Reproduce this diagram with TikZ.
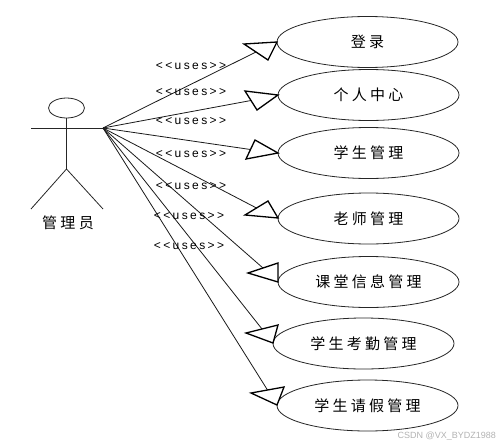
\documentclass[tikz,border=0pt]{standalone}
\usepackage{fontspec}
\usetikzlibrary{shapes.geometric,calc}
\newfontfamily\cjk[LetterSpace=22]{Noto Sans CJK SC}
\newfontfamily\usesfont[LetterSpace=20]{Liberation Sans}
\newfontfamily\wmfont{Liberation Sans}
\tikzset{
  x=1pt,y=-1pt,
  usecase/.style={draw=black!85,line width=0.8pt,ellipse,minimum width=181pt,minimum height=51pt,inner sep=0pt,font=\cjk\fontsize{15}{16}\selectfont,fill=white},
  stick/.style={draw=black!85,line width=0.8pt},
  conn/.style={draw=black!90,line width=0.8pt},
  tri/.style={draw=black,line width=1.3pt,fill=white,line join=miter},
  useslabel/.style={inner sep=0pt,font=\usesfont\fontsize{12}{13}\selectfont},
}
\begin{document}
\begin{tikzpicture}
\useasboundingbox (0,0) rectangle (500,447);
% actor
\node[draw=black!85,line width=0.8pt,ellipse,minimum width=36pt,minimum height=20pt,inner sep=0pt] (head) at (66.5,108) {};
\coordinate (armL) at (31,128);
\coordinate (hand) at (103,128);
\coordinate (hip) at (66.5,169);
\coordinate (legL) at (31,209);
\coordinate (legR) at (103,209);
\draw[stick] (armL) -- (hand);
\draw[stick] (head) -- (hip);
\draw[stick] (legL) -- (hip) -- (legR);
\node[font=\cjk\fontsize{15}{16}\selectfont,inner sep=0pt] (actor) at (68,223) {管理员};
% use cases
\node[usecase] (u1) at (367.5,42) {登录};
\node[usecase] (u2) at (368.5,95) {个人中心};
\node[usecase] (u3) at (368.5,153) {学生管理};
\node[usecase] (u4) at (368.5,218.5) {老师管理};
\node[usecase] (u5) at (368.5,282) {课堂信息管理};
\node[usecase] (u6) at (363.5,343.5) {学生考勤管理};
\node[usecase] (u7) at (367.5,405.5) {学生请假管理};
% triangle corners
\coordinate (a1) at (244,44); \coordinate (b1) at (268,60);
\coordinate (a2) at (245,91); \coordinate (b2) at (257,110);
\coordinate (a3) at (255,140); \coordinate (b3) at (246,159);
\coordinate (a4) at (268,201); \coordinate (b4) at (245,215);
\coordinate (a5) at (278,263); \coordinate (b5) at (248,273);
\coordinate (a6) at (278,325); \coordinate (b6) at (246,333);
\coordinate (a7) at (284,387); \coordinate (b7) at (251,393);
\coordinate (t1) at (277,42);
\coordinate (t2) at (278,95);
\coordinate (t3) at (278,153);
\coordinate (t4) at (278,218);
\coordinate (t5) at (278,282);
\coordinate (t6) at (273,343);
\coordinate (t7) at (277,405);
\foreach \i in {1,...,7}{
  \draw[conn] (hand) -- ($(a\i)!0.5!(b\i)$);
  \draw[tri] (a\i) -- (t\i) -- (b\i) -- cycle;
}
% labels
\node[useslabel] (l1) at (191,66) {<{}<uses>{}>};
\node[useslabel] (l2) at (191,92) {<{}<uses>{}>};
\node[useslabel] (l3) at (191,121) {<{}<uses>{}>};
\node[useslabel] (l4) at (191,154) {<{}<uses>{}>};
\node[useslabel] (l5) at (191,186) {<{}<uses>{}>};
\node[useslabel] (l6) at (189,216) {<{}<uses>{}>};
\node[useslabel] (l7) at (189,246) {<{}<uses>{}>};
\node[font=\wmfont\fontsize{9}{10}\selectfont,text=black!30,inner sep=0pt,anchor=east] (wm) at (496,436) {CSDN @VX\_BYDZ1988};
\end{tikzpicture}
\end{document}
